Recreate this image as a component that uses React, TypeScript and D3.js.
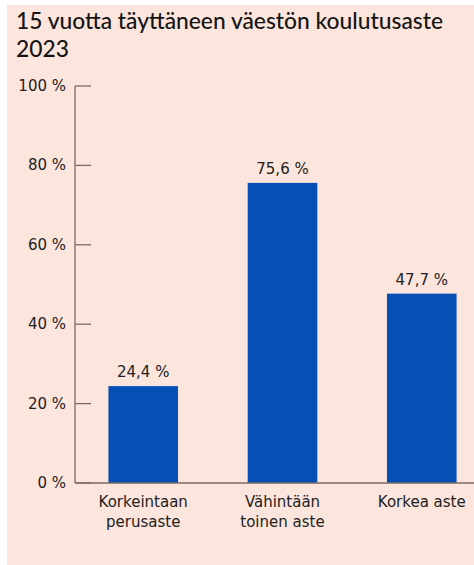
import React, { useEffect, useRef } from 'react';
import * as d3 from 'd3';

// data
const categories = [['Korkeintaan', 'perusaste'], ['Vähintään', 'toinen aste'], ['Korkea aste']];
const values = [24.4, 75.6, 47.7];
const yTicks = [0, 20, 40, 60, 80, 100];
const titleLines = ['15 vuotta täyttäneen väestön koulutusaste', '2023'];

const W = 474, H = 565;

export default function App() {
  const ref = useRef<SVGSVGElement | null>(null);

  useEffect(() => {
    const svg = d3.select(ref.current);
    svg.selectAll('*').remove();

    const bg = '#fce5dc';
    const barColor = '#064fb5';
    const axisColor = '#7b6b64';
    const textColor = '#222';
    const labelFont = '"DejaVu Sans", sans-serif';

    svg.append('rect')
      .attr('x', 7).attr('y', 5)
      .attr('width', W - 7).attr('height', H - 5)
      .attr('fill', bg);

    // title
    svg.append('g').selectAll('text').data(titleLines).join('text')
      .attr('x', 16)
      .attr('y', (d, i) => 29 + i * 28)
      .attr('font-family', 'Lato, sans-serif')
      .attr('font-size', 22.8)
      .attr('font-weight', 500)
      .attr('fill', '#151515')
      .text(d => d);

    const y = d3.scaleLinear().domain([0, 100]).range([483, 86]);
    const x = d3.scaleBand<number>()
      .domain(values.map((_, i) => i))
      .range([75, 490])
      .paddingInner(0.5)
      .paddingOuter(0.24);

    // y axis
    const ya = svg.append('g');
    ya.append('line')
      .attr('x1', 75).attr('x2', 75)
      .attr('y1', y(100)).attr('y2', y(0))
      .attr('stroke', axisColor).attr('stroke-width', 1.3);
    ya.selectAll('line.tick').data(yTicks).join('line')
      .attr('class', 'tick')
      .attr('x1', 75).attr('x2', 91)
      .attr('y1', d => y(d)).attr('y2', d => y(d))
      .attr('stroke', axisColor).attr('stroke-width', 1.3);
    ya.selectAll('text').data(yTicks).join('text')
      .attr('x', 66)
      .attr('y', d => y(d) + 5)
      .attr('text-anchor', 'end')
      .attr('font-family', labelFont)
      .attr('font-size', 15)
      .attr('fill', textColor)
      .text(d => `${d} %`);

    // bars
    svg.append('g').selectAll('rect').data(values).join('rect')
      .attr('x', (d, i) => x(i)!)
      .attr('width', x.bandwidth())
      .attr('y', d => y(d))
      .attr('height', d => y(0) - y(d))
      .attr('fill', barColor);

    // value labels
    svg.append('g').selectAll('text').data(values).join('text')
      .attr('x', (d, i) => x(i)! + x.bandwidth() / 2)
      .attr('y', d => y(d) - 9)
      .attr('text-anchor', 'middle')
      .attr('font-family', labelFont)
      .attr('font-size', 15)
      .attr('fill', textColor)
      .text(d => `${String(d).replace('.', ',')} %`);

    // x axis
    svg.append('line')
      .attr('x1', 75).attr('x2', 474)
      .attr('y1', y(0)).attr('y2', y(0))
      .attr('stroke', axisColor).attr('stroke-width', 1.3);

    const cat = svg.append('g').selectAll('text').data(categories).join('text')
      .attr('text-anchor', 'middle')
      .attr('font-family', labelFont)
      .attr('font-size', 15)
      .attr('fill', textColor);
    cat.selectAll('tspan').data((d, i) => d.map(s => ({ s, i }))).join('tspan')
      .attr('x', d => x(d.i)! + x.bandwidth() / 2)
      .attr('y', (d, j) => 507 + j * 19.5)
      .text(d => d.s);
  }, []);

  return (
    <svg ref={ref} width={W} height={H}
      style={{ position: 'absolute', left: 0, top: 0, display: 'block' }} />
  );
}
